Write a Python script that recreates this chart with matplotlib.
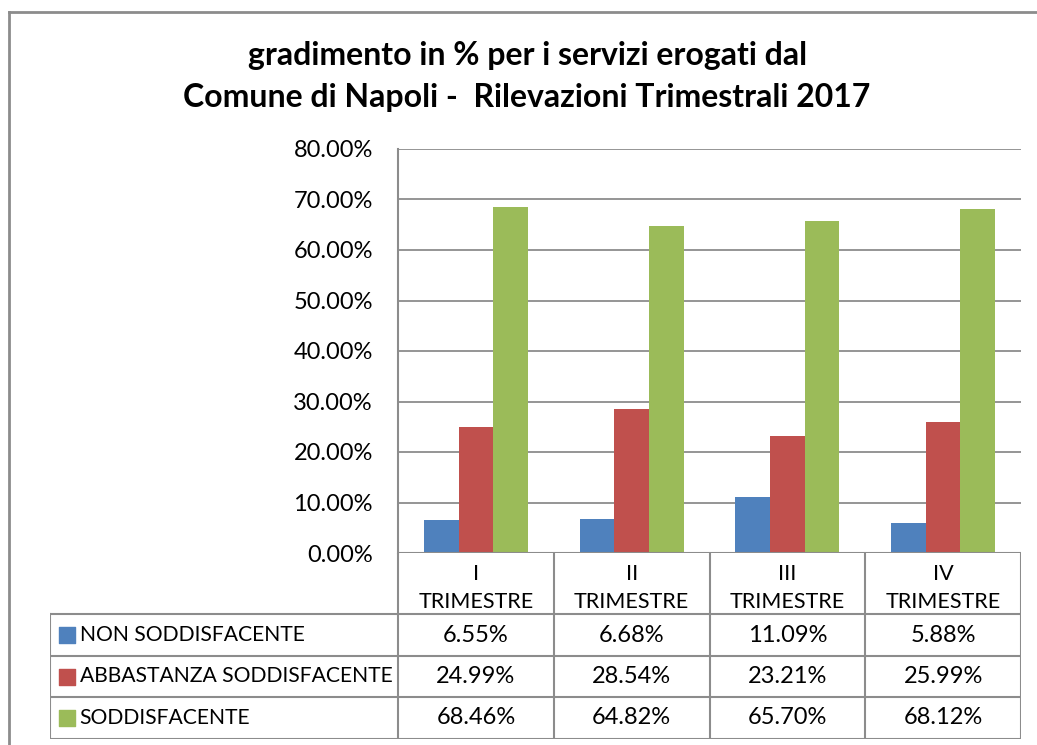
import matplotlib.pyplot as plt
from matplotlib.lines import Line2D
import numpy as np

plt.rcParams['font.family'] = ['Lato', 'DejaVu Sans']

# data
quarters = ['I\nTRIMESTRE', 'II\nTRIMESTRE', 'III\nTRIMESTRE', 'IV\nTRIMESTRE']
series = ['NON SODDISFACENTE', 'ABBASTANZA SODDISFACENTE', 'SODDISFACENTE']
non_sodd = [6.55, 6.68, 11.09, 5.88]
abbastanza = [24.99, 28.54, 23.21, 25.99]
sodd = [68.46, 64.82, 65.70, 68.12]
values = [non_sodd, abbastanza, sodd]
colors = ['#4F81BD', '#C0504D', '#9BBB59']
yticks = [0, 10, 20, 30, 40, 50, 60, 70, 80]

W, H = 1037, 745
fig = plt.figure(figsize=(W / 100, H / 100), dpi=100)
grid_col = '#8c8c8c'

def fx(px):
    return px / W

def fy(py):
    return 1 - py / H

# outer chart frame (cropped: only left and top visible)
fig.add_artist(Line2D([fx(8.5), fx(8.5)], [fy(12), 0], color=grid_col, lw=2))
fig.add_artist(Line2D([fx(8.5), 1], [fy(12), fy(12)], color=grid_col, lw=2))

fig.text(fx(528), fy(55), 'gradimento in % per i servizi erogati dal',
         ha='center', va='center', fontsize=23, fontweight='bold')
fig.text(fx(527), fy(98), 'Comune di Napoli -  Rilevazioni Trimestrali 2017',
         ha='center', va='center', fontsize=23, fontweight='bold')

# bar area
left, right, top, bottom = 398, 1021, 149, 553
ax = fig.add_axes([fx(left), fy(bottom), fx(right - left), fy(top) - fy(bottom)])
x = np.arange(len(quarters))
bw = 0.223
for i, (vals, c) in enumerate(zip(values, colors)):
    ax.bar(x + (i - 1) * bw, vals, bw, color=c, zorder=3)
ax.set_xlim(-0.5, len(quarters) - 0.5)
ax.set_ylim(0, 80)
ax.set_yticks(yticks)
ax.set_yticklabels(['%.2f%%' % t for t in yticks], fontsize=17)
ax.yaxis.grid(True, color=grid_col, lw=1.3, zorder=0)
ax.set_xticks([])
ax.tick_params(axis='y', length=0, pad=18)
for s in ['top', 'right', 'bottom']:
    ax.spines[s].set_visible(False)
ax.spines['left'].set_color(grid_col)
ax.spines['left'].set_linewidth(1.5)
ax.axhline(0, color=grid_col, lw=1.5, zorder=4)

# data table under the bars
tleft = 50
col_w = (right - left) / len(quarters)
label_x0 = -0.5 - (left - tleft) / col_w
row_edges = [0, 61, 103, 144, 186]  # pixel offsets below the x axis
tax = fig.add_axes([fx(tleft), fy(bottom + row_edges[-1]), fx(right - tleft),
                    fy(bottom) - fy(bottom + row_edges[-1])])
tax.set_xlim(label_x0, len(quarters) - 0.5)
tax.set_ylim(row_edges[-1], 0)
tax.axis('off')
lc = '#8c8c8c'
lw = 1.5
# vertical lines
for k in range(len(quarters) + 1):
    tax.plot([k - 0.5, k - 0.5], [0, row_edges[-1]], color=lc, lw=lw)
tax.plot([label_x0, label_x0], [row_edges[1], row_edges[-1]], color=lc, lw=lw)
# horizontal lines
for r in row_edges[1:]:
    tax.plot([label_x0, len(quarters) - 0.5], [r, r], color=lc, lw=lw)

for k, q in enumerate(quarters):
    tax.text(k, row_edges[1] / 2 + 5, q, ha='center', va='center', fontsize=15.5,
             linespacing=1.5)
for j, (name, vals, c) in enumerate(zip(series, values, colors)):
    yc = (row_edges[j + 1] + row_edges[j + 2]) / 2
    tax.scatter([label_x0 + 0.106], [yc], marker='s', s=125, color=c)
    tax.text(label_x0 + 0.19, yc, name, ha='left', va='center', fontsize=15.2)
    for k, v in enumerate(vals):
        tax.text(k, yc, '%.2f%%' % v, ha='center', va='center', fontsize=17)

fig.savefig('out.png', dpi=100)
